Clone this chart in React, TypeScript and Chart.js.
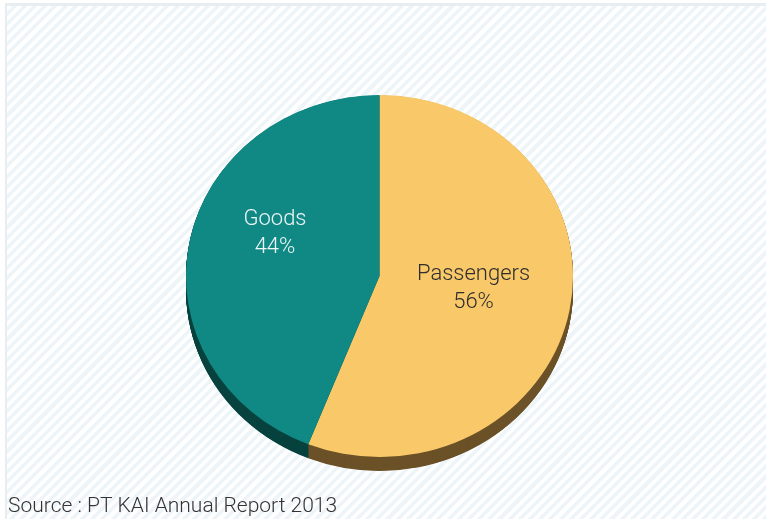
import React, { useEffect, useRef } from "react";
import { Chart, registerables } from "chart.js";

Chart.register(...registerables);

const categories = ["Passengers", "Goods"];
const shares = [56, 44];
const faceColors = ["#f9c869", "#108985"];
const sideColors = ["#6c5228", "#08433f"];
const labelColors = ["#2e2e2e", "#eef6f6"];
const sourceText = "Source : PT KAI Annual Report 2013";

const SQUASH = 181 / 193.5;
const DEPTH = 14;
const FONT = "Roboto";
const LABEL_SIZE = 22;
const LINE_GAP = 28;
const labelRadius = [0.5, 0.55];
const labelDy = [-4, -24];
const labelDx = [-1, 0];

const pie3d = {
  id: "pie3d",
  beforeDatasetsDraw(chart: any) {
    const arcs = chart.getDatasetMeta(0).data as any[];
    const ctx = chart.ctx as CanvasRenderingContext2D;
    ctx.save();
    if (!arcs.length) return;
    const cx = arcs[0].x;
    const cy = arcs[0].y;
    ctx.translate(cx, cy);
    ctx.scale(1, SQUASH);
    ctx.translate(-cx, -cy);
    const depth = DEPTH / SQUASH;
    for (let d = depth; d > 0; d -= 0.5) {
      arcs.forEach((a, i) => {
        ctx.beginPath();
        ctx.moveTo(a.x, a.y + d);
        ctx.arc(a.x, a.y + d, a.outerRadius, a.startAngle, a.endAngle);
        ctx.closePath();
        ctx.fillStyle = sideColors[i];
        ctx.fill();
      });
    }
  },
  afterDatasetsDraw(chart: any) {
    const ctx = chart.ctx as CanvasRenderingContext2D;
    ctx.restore();
    const arcs = chart.getDatasetMeta(0).data as any[];
    ctx.save();
    ctx.font = `300 ${LABEL_SIZE}px ${FONT}`;
    ctx.textAlign = "center";
    ctx.textBaseline = "middle";
    arcs.forEach((a, i) => {
      const mid = (a.startAngle + a.endAngle) / 2;
      const r = a.outerRadius * labelRadius[i];
      const x = a.x + Math.cos(mid) * r + labelDx[i];
      const y = a.y + Math.sin(mid) * r * SQUASH + labelDy[i];
      ctx.fillStyle = labelColors[i];
      ctx.fillText(categories[i], x, y - LINE_GAP / 2);
      ctx.fillText(`${shares[i]}%`, x, y + LINE_GAP / 2);
    });
    ctx.restore();
  },
};

export default function App() {
  const ref = useRef<HTMLCanvasElement | null>(null);

  useEffect(() => {
    document.body.style.margin = "0";
    const canvas = ref.current;
    if (!canvas) return;
    const chart = new Chart(canvas, {
      type: "pie",
      data: {
        labels: categories,
        datasets: [
          {
            data: shares,
            backgroundColor: faceColors,
            borderWidth: 0,
            hoverOffset: 0,
          },
        ],
      },
      options: {
        animation: false,
        responsive: false,
        devicePixelRatio: 1,
        layout: { padding: { top: 82.5, left: 8, right: 15, bottom: 0 } },
        plugins: {
          legend: { display: false },
          tooltip: { enabled: false },
          title: {
            display: true,
            text: sourceText,
            position: "bottom",
            align: "start",
            color: "#333333",
            font: { family: FONT, size: 21, weight: "300" as any, lineHeight: 1.2 },
            padding: { top: 24.3, bottom: 0 },
          },
        },
      },
      plugins: [pie3d],
    });
    return () => chart.destroy();
  }, []);

  return (
    <div style={{ position: "relative", width: 766, height: 519, overflow: "hidden" }}>
      <div
        style={{
          position: "absolute",
          left: 5,
          top: 3,
          right: 0,
          bottom: 0,
          borderTop: "3px solid #e7edf0",
          borderLeft: "2px solid #e7edf0",
          background:
            "repeating-linear-gradient(135deg, #ffffff 0px, #ffffff 3.6px, #eef5f8 3.6px, #eef5f8 7.2px)",
        }}
      />
      <canvas
        ref={ref}
        width={766}
        height={519}
        style={{ position: "absolute", left: 0, top: 0, width: 766, height: 519 }}
      />
    </div>
  );
}
